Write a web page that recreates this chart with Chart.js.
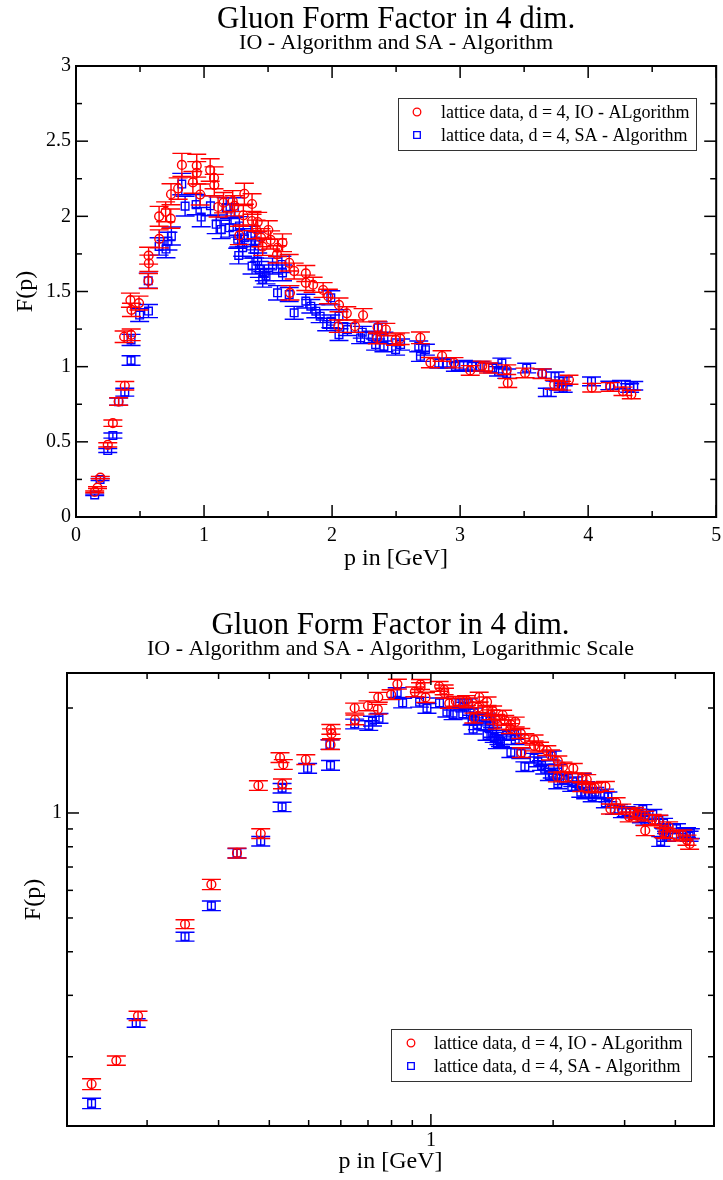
<!DOCTYPE html>
<html><head><meta charset="utf-8">
<script src="https://cdn.jsdelivr.net/npm/chart.js@4.4.1/dist/chart.umd.min.js"></script>
<style>
html,body{margin:0;padding:0;background:#fff;}
#wrap{width:723px;height:1180px;position:relative;overflow:hidden;}
.box{position:absolute;left:0;width:723px;height:590px;}
canvas{display:block;}
</style></head><body>
<div id="wrap">
<div class="box" style="top:0"><canvas id="c1" width="723" height="590"></canvas></div>
<div class="box" style="top:590px"><canvas id="c2" width="723" height="590"></canvas></div>
</div>
<script>
// ---------------- data ----------------
const ioLabel = 'lattice data, d = 4, IO - ALgorithm';
const saLabel = 'lattice data, d = 4, SA - Algorithm';

const ioP = [0.146,0.168,0.190,0.248,0.288,0.333,0.376,0.381,0.425,0.431,
 0.433,0.492,0.566,0.567,0.569,0.649,0.650,0.700,0.740,0.742,
 0.798,0.827,0.913,0.943,0.943,0.970,1.048,1.078,1.080,1.110,
 1.152,1.224,1.237,1.276,1.307,1.315,1.375,1.375,1.406,1.419,
 1.445,1.458,1.502,1.520,1.570,1.574,1.613,1.665,1.671,1.704,
 1.795,1.795,1.852,1.930,1.971,2.049,2.054,2.115,2.179,2.242,
 2.353,2.355,2.420,2.496,2.532,2.690,2.768,2.859,2.952,3.079,
 3.172,3.222,3.364,3.372,3.507,3.640,3.735,3.793,3.850,4.028,
 4.174,4.272,4.337];
const ioF = [0.167,0.195,0.262,0.480,0.624,0.768,1.199,0.873,1.442,1.212,
 1.378,1.423,1.570,1.738,1.688,2.000,1.850,2.030,1.985,2.147,
 2.185,2.342,2.226,2.337,2.290,2.145,2.308,2.256,2.208,2.062,
 2.091,2.102,2.070,1.873,2.007,2.150,2.082,1.969,1.913,1.962,
 1.858,1.798,1.909,1.843,1.747,1.791,1.824,1.691,1.491,1.636,
 1.620,1.558,1.545,1.510,1.467,1.269,1.411,1.355,1.269,1.342,
 1.191,1.262,1.247,1.180,1.186,1.192,1.027,1.071,1.026,0.975,
 1.004,0.991,0.980,0.891,0.958,0.953,0.880,0.873,0.913,0.860,
 0.865,0.836,0.815];
const ioErr = [0.006,0.006,0.008,0.014,0.021,0.025,0.038,0.028,0.047,0.039,
 0.044,0.046,0.050,0.056,0.054,0.066,0.060,0.066,0.064,0.070,
 0.071,0.077,0.072,0.076,0.074,0.070,0.075,0.073,0.071,0.066,
 0.068,0.069,0.067,0.061,0.065,0.070,0.068,0.064,0.062,0.064,
 0.060,0.058,0.062,0.060,0.057,0.058,0.059,0.055,0.048,0.053,
 0.053,0.051,0.050,0.049,0.048,0.041,0.046,0.044,0.041,0.044,
 0.039,0.041,0.041,0.038,0.039,0.039,0.034,0.035,0.034,0.032,
 0.033,0.033,0.032,0.030,0.032,0.032,0.030,0.029,0.030,0.029,
 0.029,0.028,0.028];

const saP = [0.146,0.188,0.248,0.288,0.333,0.381,0.430,0.430,0.497,0.564,
 0.566,0.649,0.703,0.718,0.745,0.826,0.852,0.938,0.978,1.050,
 1.095,1.134,1.173,1.198,1.211,1.237,1.263,1.271,1.276,1.302,
 1.315,1.367,1.375,1.393,1.401,1.419,1.432,1.458,1.471,1.484,
 1.535,1.574,1.608,1.613,1.665,1.704,1.795,1.834,1.873,1.907,
 1.958,1.990,1.990,2.054,2.054,2.120,2.223,2.236,2.314,2.340,
 2.360,2.405,2.405,2.496,2.535,2.677,2.690,2.729,2.833,2.898,
 2.963,3.027,3.092,3.157,3.253,3.300,3.326,3.364,3.520,3.642,
 3.681,3.741,3.767,3.805,3.805,4.026,4.169,4.260,4.324,4.356];
const saF = [0.147,0.250,0.442,0.542,0.767,0.830,1.178,1.041,1.343,1.572,
 1.370,1.800,1.782,1.835,1.869,2.215,2.068,2.078,1.995,2.070,
 1.947,1.913,2.058,1.924,2.013,2.058,1.847,1.740,1.936,1.791,
 1.858,1.873,1.669,1.780,1.836,1.702,1.647,1.580,1.624,1.602,
 1.669,1.491,1.680,1.624,1.480,1.358,1.436,1.402,1.369,1.336,
 1.280,1.458,1.302,1.336,1.213,1.247,1.191,1.229,1.198,1.147,
 1.258,1.191,1.135,1.113,1.147,1.135,1.069,1.113,1.024,1.024,
 1.002,1.009,1.002,1.002,0.991,0.969,1.024,0.953,0.991,0.953,
 0.829,0.935,0.873,0.902,0.858,0.902,0.875,0.880,0.858,0.873];
const saErr = [0.005,0.007,0.013,0.017,0.024,0.026,0.037,0.032,0.043,0.050,
 0.044,0.058,0.057,0.059,0.060,0.071,0.066,0.067,0.064,0.066,
 0.062,0.061,0.066,0.062,0.064,0.066,0.059,0.056,0.062,0.057,
 0.059,0.060,0.053,0.057,0.059,0.054,0.053,0.051,0.052,0.051,
 0.053,0.048,0.054,0.052,0.047,0.043,0.046,0.045,0.044,0.043,
 0.041,0.047,0.042,0.043,0.039,0.040,0.038,0.039,0.038,0.037,
 0.040,0.038,0.036,0.036,0.037,0.036,0.034,0.036,0.033,0.033,
 0.032,0.033,0.032,0.032,0.032,0.031,0.033,0.031,0.032,0.031,
 0.027,0.030,0.028,0.029,0.028,0.029,0.028,0.028,0.028,0.028];

// tick values
const linXMajor = [0,1,2,3,4,5];
const linXMinor = [0.5,1.5,2.5,3.5,4.5];
const linYMajor = [0,0.5,1,1.5,2,2.5,3];
const linYMinor = [0.25,0.75,1.25,1.75,2.25,2.75];
const logXMajor = [1];
const logXMinor = [0.2,0.3,0.4,0.5,0.6,0.7,0.8,0.9,2,3,4];
const logYMajor = [1];
const logYMinor = [0.2,0.3,0.4,0.5,0.6,0.7,0.8,0.9,2];

const mainTitle = 'Gluon Form Factor in 4 dim.';
const subTop = 'IO - Algorithm and SA - Algorithm';
const subBottom = 'IO - Algorithm and SA - Algorithm, Logarithmic Scale';

// ---------------- helpers ----------------
const SERIF = "'Liberation Serif', 'Times New Roman', serif";
const RED = '#ff0000', BLUE = '#0000ff';

function makeDatasets() {
  return [
    { label: ioLabel,
      data: ioP.map((p, i) => ({x: p, y: ioF[i], e: ioErr[i]})),
      pointStyle: 'circle', pointRadius: 4.4, pointBorderWidth: 1.4,
      borderColor: RED, backgroundColor: 'rgba(0,0,0,0)',
      pointBackgroundColor: 'rgba(0,0,0,0)', showLine: false },
    { label: saLabel,
      data: saP.map((p, i) => ({x: p, y: saF[i], e: saErr[i]})),
      pointStyle: 'rect', pointRadius: 5.4, pointBorderWidth: 1.4,
      borderColor: BLUE, backgroundColor: 'rgba(0,0,0,0)',
      pointBackgroundColor: 'rgba(0,0,0,0)', showLine: false }
  ];
}

const errorBars = {
  id: 'errorBars',
  beforeDatasetDraw(chart, args) {
    const ds = chart.data.datasets[args.index];
    const {ctx, chartArea: a, scales: {x, y}} = chart;
    ctx.save();
    ctx.beginPath(); ctx.rect(a.left, a.top, a.right - a.left, a.bottom - a.top); ctx.clip();
    ctx.strokeStyle = ds.borderColor; ctx.lineWidth = 1.4;
    const cap = 9.5;
    ds.data.forEach(d => {
      const px = x.getPixelForValue(d.x);
      const y1 = y.getPixelForValue(d.y + d.e);
      const y2 = y.getPixelForValue(d.y - d.e);
      ctx.beginPath();
      ctx.moveTo(px, y1); ctx.lineTo(px, y2);
      ctx.moveTo(px - cap, y1); ctx.lineTo(px + cap, y1);
      ctx.moveTo(px - cap, y2); ctx.lineTo(px + cap, y2);
      ctx.stroke();
    });
    ctx.restore();
  }
};

const frameTicks = {
  id: 'frameTicks',
  afterDraw(chart, args, o) {
    const {ctx, chartArea: a, scales: {x, y}} = chart;
    ctx.save();
    ctx.strokeStyle = '#000'; ctx.lineWidth = 1.5;
    const seg = (x1, y1, x2, y2) => { ctx.beginPath(); ctx.moveTo(x1, y1); ctx.lineTo(x2, y2); ctx.stroke(); };
    const xt = (vals, L) => vals.forEach(v => { const p = x.getPixelForValue(v); seg(p, a.bottom, p, a.bottom - L); seg(p, a.top, p, a.top + L); });
    const yt = (vals, L) => vals.forEach(v => { const p = y.getPixelForValue(v); seg(a.left, p, a.left + L, p); seg(a.right, p, a.right - L, p); });
    xt(o.xMajor, 12); xt(o.xMinor, 6); yt(o.yMajor, 12); yt(o.yMinor, 6);
    ctx.lineWidth = 2;
    ctx.strokeRect(a.left, a.top, a.right - a.left, a.bottom - a.top);
    ctx.restore();
  }
};

const titles = {
  id: 'titles',
  afterDraw(chart, args, o) {
    const {ctx, chartArea: a} = chart;
    const cx = (a.left + a.right) / 2;
    ctx.save();
    ctx.fillStyle = '#000'; ctx.textAlign = 'center'; ctx.textBaseline = 'alphabetic';
    ctx.font = '31px ' + SERIF; ctx.fillText(o.title, cx, o.titleY);
    ctx.font = '22px ' + SERIF; ctx.fillText(o.sub, cx, o.subY);
    ctx.restore();
  }
};

const boxLegend = {
  id: 'boxLegend',
  afterDraw(chart, args, o) {
    const ctx = chart.ctx;
    ctx.save();
    ctx.fillStyle = '#fff'; ctx.fillRect(o.x, o.y, o.w, o.h);
    ctx.strokeStyle = '#333'; ctx.lineWidth = 1; ctx.strokeRect(o.x + 0.5, o.y + 0.5, o.w, o.h);
    ctx.font = '18px ' + SERIF; ctx.textBaseline = 'middle'; ctx.textAlign = 'left'; ctx.fillStyle = '#000';
    chart.data.datasets.forEach((ds, i) => {
      const yy = o.y + o.row0 + i * o.rowH;
      ctx.strokeStyle = ds.borderColor; ctx.lineWidth = 1.3;
      ctx.beginPath();
      if (ds.pointStyle === 'circle') ctx.arc(o.mx, yy, 3.8, 0, Math.PI * 2);
      else ctx.rect(o.mx - 3.3, yy - 3.3, 6.6, 6.6);
      ctx.stroke();
      ctx.fillStyle = '#000';
      ctx.fillText(ds.label, o.tx, yy + 1);
    });
    ctx.restore();
  }
};

function axisCommon(titleText, titlePad, tickPad, fitFn) {
  return {
    ticks: { font: {family: SERIF, size: 20}, color: '#000', padding: tickPad, maxRotation: 0, autoSkip: false,
             callback: v => String(v) },
    grid: { display: false, drawTicks: false },
    border: { display: false },
    title: { display: true, text: titleText, color: '#000', font: {family: SERIF, size: 24}, padding: titlePad },
    afterFit: fitFn
  };
}

// ---------------- top chart (linear) ----------------
new Chart(document.getElementById('c1'), {
  type: 'scatter',
  data: { datasets: makeDatasets() },
  options: {
    responsive: false, animation: false, devicePixelRatio: 1,
    layout: { padding: {top: 66, left: 0, right: 4, bottom: 0} },
    plugins: {
      legend: {display: false}, tooltip: {enabled: false},
      frameTicks: {xMajor: linXMajor, xMinor: linXMinor, yMajor: linYMajor, yMinor: linYMinor},
      titles: {title: mainTitle, sub: subTop, titleY: 28, subY: 49},
      boxLegend: {x: 398, y: 98, w: 298, h: 52, row0: 14, rowH: 23, mx: 417, tx: 441}
    },
    scales: {
      x: Object.assign({ type: 'linear', min: 0, max: 5,
          afterBuildTicks: s => { s.ticks = linXMajor.map(v => ({value: v})); } },
          axisCommon('p in [GeV]', {top: 0, bottom: 17}, 7, s => { s.height = 73; s.paddingLeft = 0; s.paddingRight = 0; })),
      y: Object.assign({ type: 'linear', min: 0, max: 3,
          afterBuildTicks: s => { s.ticks = linYMajor.map(v => ({value: v})); } },
          axisCommon('F(p)', {top: 11, bottom: 0}, 5, s => { s.width = 76; s.paddingTop = 0; s.paddingBottom = 0; }))
    }
  },
  plugins: [errorBars, frameTicks, titles, boxLegend]
});

// ---------------- bottom chart (log-log) ----------------
new Chart(document.getElementById('c2'), {
  type: 'scatter',
  data: { datasets: makeDatasets() },
  options: {
    responsive: false, animation: false, devicePixelRatio: 1,
    layout: { padding: {top: 83, left: 0, right: 9, bottom: 0} },
    plugins: {
      legend: {display: false}, tooltip: {enabled: false},
      frameTicks: {xMajor: logXMajor, xMinor: logXMinor, yMajor: logYMajor, yMinor: logYMinor},
      titles: {title: mainTitle, sub: subBottom, titleY: 44, subY: 65},
      boxLegend: {x: 391, y: 439, w: 300, h: 52, row0: 14, rowH: 23, mx: 411, tx: 434}
    },
    scales: {
      x: Object.assign({ type: 'logarithmic', min: 0.127, max: 4.98,
          afterBuildTicks: s => { s.ticks = logXMajor.map(v => ({value: v})); } },
          axisCommon('p in [GeV]', {top: 0, bottom: 4}, 3, s => { s.height = 54; s.paddingLeft = 0; s.paddingRight = 0; })),
      y: Object.assign({ type: 'logarithmic', min: 0.1266, max: 2.52,
          afterBuildTicks: s => { s.ticks = logYMajor.map(v => ({value: v})); } },
          axisCommon('F(p)', {top: 19, bottom: 0}, 5, s => { s.width = 67; s.paddingTop = 0; s.paddingBottom = 0; }))
    }
  },
  plugins: [errorBars, frameTicks, titles, boxLegend]
});
</script>
</body></html>
